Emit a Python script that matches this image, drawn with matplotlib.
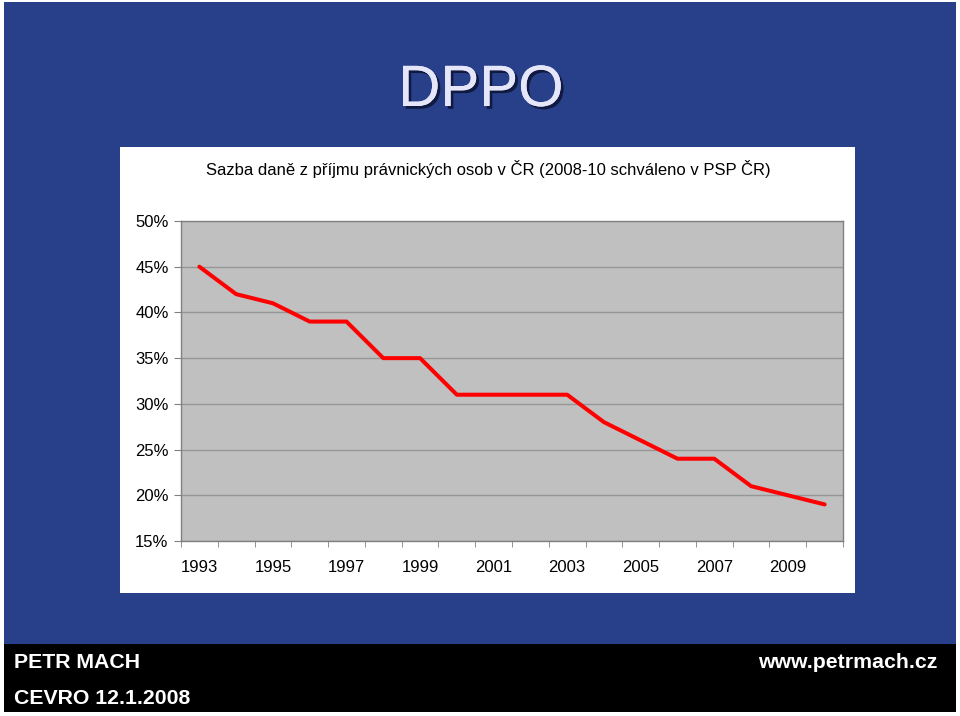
import matplotlib
matplotlib.use('Agg')
import matplotlib.pyplot as plt
import matplotlib.patheffects as pe
from matplotlib.patches import Rectangle
from matplotlib.ticker import FixedLocator, PercentFormatter

plt.rcParams['font.family'] = ['Liberation Sans', 'DejaVu Sans']

# Sazba dane z prijmu pravnickych osob (%)
years = list(range(1993, 2011))
rates = [45, 42, 41, 39, 39, 35, 35, 31, 31, 31, 31, 28, 26, 24, 24, 21, 20, 19]
y_ticks = [15, 20, 25, 30, 35, 40, 45, 50]

W, H = 960, 716
fig = plt.figure(figsize=(W / 100, H / 100), dpi=100)
fig.patch.set_facecolor('white')

def box(x0, y0, x1, y1):
    """pixel coords (top-left origin) -> figure fraction rect"""
    return [x0 / W, 1 - y1 / H, (x1 - x0) / W, (y1 - y0) / H]

# slide background + footer band
fig.patches.append(Rectangle((4 / W, 4 / H), 952 / W, 710 / H, transform=fig.transFigure,
                             facecolor='#283f8a', edgecolor='none', zorder=0))
fig.patches.append(Rectangle((4 / W, 4 / H), 952 / W, 68 / H, transform=fig.transFigure,
                             facecolor='black', edgecolor='none', zorder=1))
# white chart area
fig.patches.append(Rectangle((120 / W, 1 - 593 / H), 735 / W, 446 / H, transform=fig.transFigure,
                             facecolor='white', edgecolor='none', zorder=1))

# title with shadow
fig.text(481 / W, 1 - 91 / H, 'DPPO', fontsize=42, color='#e6e6fa', ha='center', va='center',
         path_effects=[pe.withSimplePatchShadow(offset=(2, -2), shadow_rgbFace='#101a40', alpha=1),
                       pe.Normal()])

fig.text(488 / W, 1 - 169 / H, 'Sazba daně z příjmu právnických osob v ČR (2008-10 schváleno v PSP ČR)',
         fontsize=12, color='black', ha='center', va='center')

ax = fig.add_axes(box(181, 221, 843, 541))
ax.set_zorder(3)
ax.set_facecolor('#c0c0c0')
x = list(range(len(years)))
ax.plot(x, rates, color='#ff0000', lw=2.9, solid_joinstyle='round', solid_capstyle='round', zorder=3)

ax.set_xlim(-0.5, len(years) - 0.5)
ax.set_ylim(15, 50)
ax.set_yticks(y_ticks)
ax.yaxis.set_major_formatter(PercentFormatter(decimals=0))
ax.grid(axis='y', color='#969696', lw=1)
ax.set_axisbelow(True)

ax.set_xticks(x[::2])
ax.set_xticklabels([str(y) for y in years[::2]])
ax.xaxis.set_minor_locator(FixedLocator([i - 0.5 for i in range(len(years) + 1)]))
ax.tick_params(axis='x', which='major', length=0, pad=14, labelsize=12)
ax.tick_params(axis='x', which='minor', length=4, color='#808080', direction='out')
ax.tick_params(axis='y', length=5, color='#808080', direction='out', pad=4, labelsize=12)

for s in ax.spines.values():
    s.set_color('#808080')
    s.set_linewidth(1)

# footer
fig.text(14 / W, 1 - 663 / H, 'PETR MACH', fontsize=15.3, fontweight='bold', color='white', va='center')
fig.text(14 / W, 1 - 699 / H, 'CEVRO 12.1.2008', fontsize=15.3, fontweight='bold', color='white', va='center')
fig.text(937 / W, 1 - 663 / H, 'www.petrmach.cz', fontsize=15.3, fontweight='bold', color='white',
         va='center', ha='right')

fig.savefig('out.png', dpi=100)
